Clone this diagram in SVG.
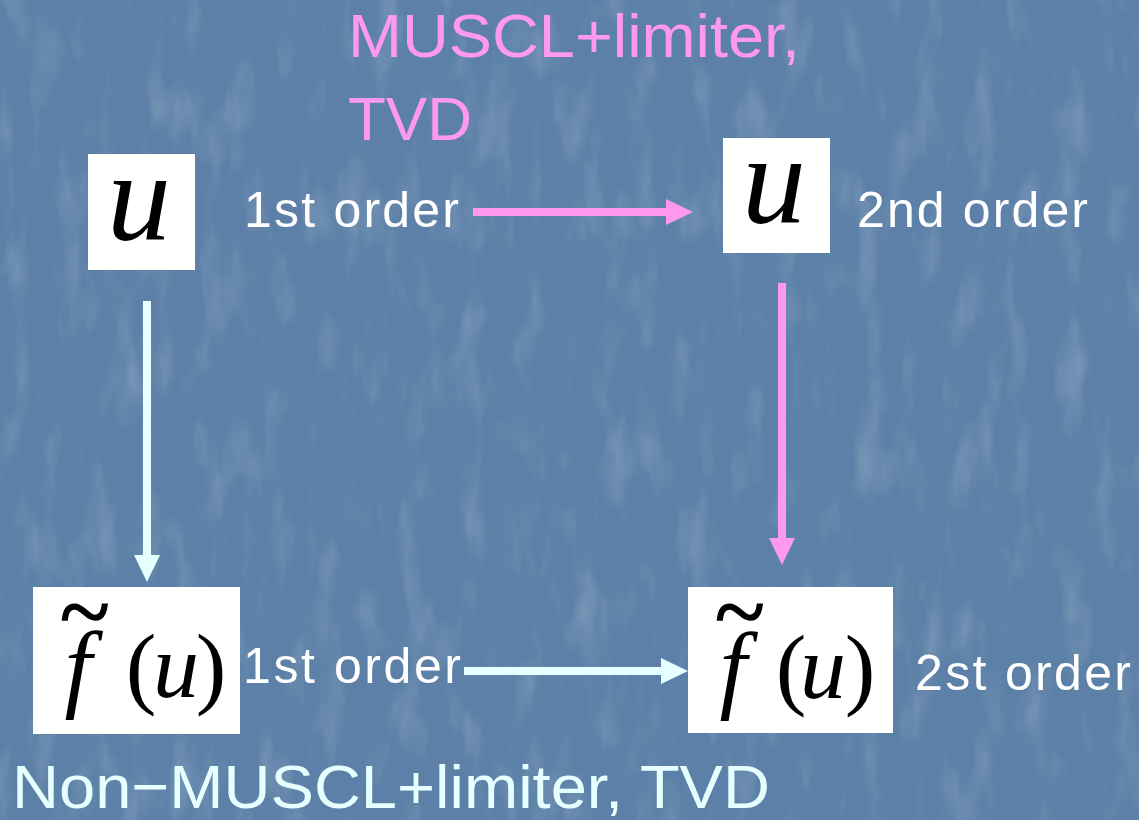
<svg xmlns="http://www.w3.org/2000/svg" width="1139" height="820" viewBox="0 0 1139 820">
  <defs>
    <!-- mottled slate-blue backdrop -->
    <filter id="grain" x="0" y="0" width="100%" height="100%">
      <feTurbulence type="fractalNoise" baseFrequency="0.035 0.012" numOctaves="3" seed="7" result="n"/>
      <feColorMatrix in="n" type="matrix" values="0 0 0 0 1  0 0 0 0 1  0 0 0 0 1  0 0 0 1.1 -0.55" result="hl"/>
      <feComposite in="hl" in2="SourceGraphic" operator="in"/>
    </filter>
    <marker id="headPink" markerUnits="userSpaceOnUse" markerWidth="28" markerHeight="26" refX="0" refY="13" orient="auto">
      <path d="M0,0 L27,13 L0,26 Z" fill="#ff99f0"/>
    </marker>
    <marker id="headCyan" markerUnits="userSpaceOnUse" markerWidth="28" markerHeight="26" refX="0" refY="13" orient="auto">
      <path d="M0,0 L27,13 L0,26 Z" fill="#e6ffff"/>
    </marker>
    <style>
      .box { fill: #ffffff; }
      .math { font-family: "Liberation Serif", "Times New Roman", serif; fill: #000000; }
      .it { font-style: italic; }
      .tilde { stroke: #000000; stroke-width: 1.6; }
      .lbl { font-family: "Liberation Sans", Arial, sans-serif; fill: #ffffff; font-size: 50px; }
      .pink { font-family: "Liberation Sans", Arial, sans-serif; fill: #ff99f0; font-size: 62px; }
      .cyan { font-family: "Liberation Sans", Arial, sans-serif; fill: #e6ffff; font-size: 62px; }
      .arrowPink { stroke: #ff99f0; stroke-width: 8; fill: none; marker-end: url(#headPink); }
      .arrowCyan { stroke: #e6ffff; stroke-width: 8; fill: none; marker-end: url(#headCyan); }
    </style>
  </defs>

  <!-- background -->
  <rect x="0" y="0" width="1139" height="820" fill="#5c80a7"/>
  <rect x="0" y="0" width="1139" height="820" fill="#ffffff" opacity="0.35" filter="url(#grain)"/>

  <!-- headings -->
  <text class="pink" x="348" y="57" textLength="452" lengthAdjust="spacingAndGlyphs">MUSCL+limiter,</text>
  <text class="pink" x="348" y="140">TVD</text>
  <text class="cyan" x="12" y="808" textLength="758" lengthAdjust="spacingAndGlyphs">Non−MUSCL+limiter, TVD</text>

  <!-- connectors -->
  <g id="connectors">
    <line class="arrowPink" x1="473" y1="212" x2="666" y2="212"/>
    <line class="arrowPink" x1="782" y1="283" x2="782" y2="538"/>
    <line class="arrowCyan" x1="147" y1="301" x2="147" y2="555"/>
    <line class="arrowCyan" x1="464" y1="671" x2="661" y2="671"/>
  </g>

  <!-- u, first order -->
  <g id="u-first">
    <rect class="box" x="88" y="154" width="107" height="116"/>
    <text class="math it" x="139" y="240" font-size="128" text-anchor="middle">u</text>
    <text class="lbl" x="244" y="227" textLength="215" lengthAdjust="spacing">1st order</text>
  </g>

  <!-- u, second order -->
  <g id="u-second">
    <rect class="box" x="723" y="138" width="107" height="115"/>
    <text class="math it" x="774" y="223" font-size="128" text-anchor="middle">u</text>
    <text class="lbl" x="857" y="227" textLength="231" lengthAdjust="spacing">2nd order</text>
  </g>

  <!-- flux, first order -->
  <g id="f-first">
    <rect class="box" x="33" y="587" width="207" height="147"/>
    <text class="math" font-size="92" text-anchor="middle"><tspan class="it" x="78" y="699" font-size="98">f</tspan><tspan class="tilde" x="85" y="642">~</tspan><tspan x="141" y="697">(</tspan><tspan class="it" x="176" y="697">u</tspan><tspan x="211" y="697">)</tspan></text>
    <text class="lbl" x="243" y="683" textLength="218" lengthAdjust="spacing">1st order</text>
  </g>

  <!-- flux, second order -->
  <g id="f-second">
    <rect class="box" x="688" y="587" width="205" height="146"/>
    <text class="math" font-size="92" text-anchor="middle"><tspan class="it" x="733" y="700" font-size="98">f</tspan><tspan class="tilde" x="740" y="642">~</tspan><tspan x="791" y="698">(</tspan><tspan class="it" x="823" y="698">u</tspan><tspan x="860" y="698">)</tspan></text>
    <text class="lbl" x="915" y="690" textLength="216" lengthAdjust="spacing">2st order</text>
  </g>
</svg>
